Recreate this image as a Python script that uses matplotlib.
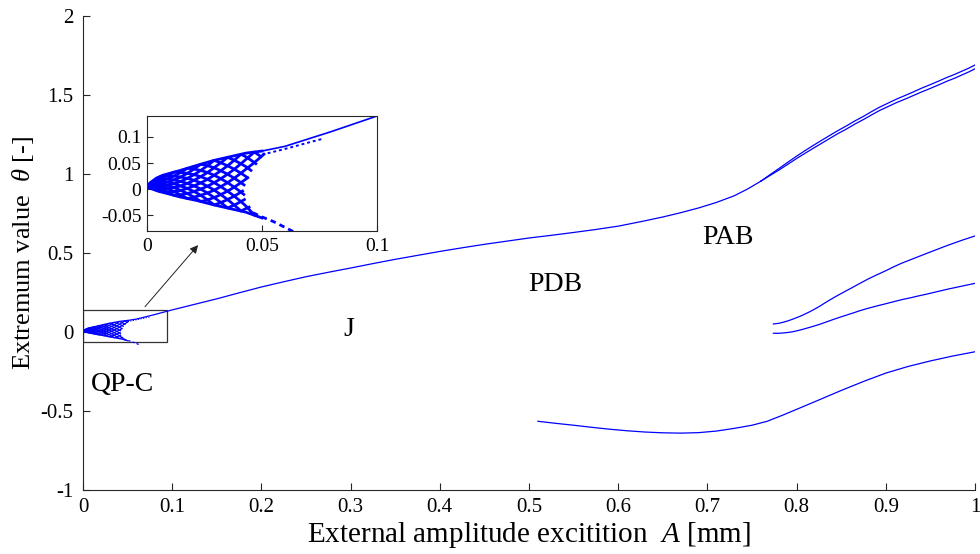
import numpy as np
import matplotlib
matplotlib.use("Agg")
import matplotlib.pyplot as plt
from matplotlib.patches import Rectangle

plt.rcParams['font.family'] = ['Liberation Serif', 'DejaVu Serif']
plt.rcParams['mathtext.fontset'] = 'custom'
plt.rcParams['mathtext.rm'] = 'Liberation Serif'
plt.rcParams['mathtext.it'] = 'Liberation Serif:italic'
plt.rcParams['axes.unicode_minus'] = False

# ---- period-1 branch (single curve, then splits into two near A = 0.76)
main_A = [0.05, 0.06, 0.08, 0.10, 0.125, 0.15, 0.175, 0.2, 0.225, 0.25, 0.275, 0.3, 0.325,
          0.35, 0.375, 0.4, 0.425, 0.45, 0.475, 0.5, 0.525, 0.55, 0.575, 0.6, 0.625, 0.65,
          0.67, 0.69, 0.71, 0.73, 0.745, 0.76]
main_th = [0.073, 0.082, 0.11, 0.14, 0.175, 0.21, 0.248, 0.285, 0.318, 0.35, 0.378, 0.405, 0.433,
           0.46, 0.485, 0.51, 0.533, 0.555, 0.575, 0.595, 0.612, 0.63, 0.649, 0.67, 0.698, 0.728,
           0.755, 0.785, 0.82, 0.862, 0.905, 0.955]

split_A = [0.76, 0.77, 0.781, 0.79, 0.80, 0.81, 0.819, 0.83, 0.838, 0.847, 0.856, 0.865, 0.875,
           0.884, 0.893, 0.903, 0.912, 0.922, 0.931, 0.94, 0.95, 0.96, 0.968, 0.977, 0.985,
           0.993, 1.0]
split_up = [0.955, 0.995, 1.038, 1.074, 1.113, 1.15, 1.182, 1.22, 1.247, 1.277, 1.305, 1.335, 1.365,
            1.395, 1.423, 1.45, 1.474, 1.498, 1.52, 1.543, 1.566, 1.59, 1.61, 1.63, 1.65,
            1.67, 1.69]
split_lo = [0.955, 0.99, 1.028, 1.061, 1.098, 1.133, 1.164, 1.201, 1.228, 1.258, 1.285, 1.315, 1.345,
            1.374, 1.402, 1.428, 1.452, 1.475, 1.497, 1.519, 1.542, 1.566, 1.586, 1.606, 1.626,
            1.646, 1.666]

# ---- PAB branches
pab_A = [0.774, 0.78, 0.785, 0.79, 0.796, 0.805, 0.815, 0.825, 0.834, 0.843, 0.852, 0.862, 0.871,
         0.88, 0.89, 0.9, 0.909, 0.918, 0.928, 0.937, 0.946, 0.958, 0.97, 0.985, 1.0]
pab_up = [0.051, 0.055, 0.062, 0.07, 0.082, 0.102, 0.129, 0.16, 0.192, 0.222, 0.25, 0.28, 0.308,
          0.335, 0.362, 0.388, 0.413, 0.436, 0.458, 0.478, 0.498, 0.524, 0.55, 0.58, 0.608]
pab_lo = [-0.008, -0.008, -0.006, -0.003, 0.002, 0.014, 0.03, 0.047, 0.065, 0.083, 0.10, 0.118, 0.135,
          0.15, 0.165, 0.179, 0.192, 0.205, 0.217, 0.229, 0.24, 0.256, 0.272, 0.29, 0.308]

# ---- lower branch
low_A = [0.51, 0.53, 0.55, 0.57, 0.59, 0.61, 0.63, 0.65, 0.67, 0.69, 0.71, 0.73, 0.75, 0.767,
         0.785, 0.804, 0.825, 0.85, 0.875, 0.9, 0.925, 0.95, 0.975, 1.0]
low_th = [-0.565, -0.578, -0.59, -0.603, -0.615, -0.625, -0.633, -0.638, -0.64, -0.637, -0.627,
          -0.61, -0.59, -0.565, -0.525, -0.48, -0.43, -0.37, -0.313, -0.26, -0.218, -0.183,
          -0.152, -0.125]

# ---- quasi-periodic cloud near the origin (envelopes and right edge)
qp_hi_A = [0.0, 0.0013, 0.004, 0.0071, 0.0145, 0.022, 0.029, 0.036, 0.043, 0.05]
qp_hi = [0.004, 0.012, 0.021, 0.027, 0.036, 0.046, 0.055, 0.062, 0.069, 0.073]
qp_lo_A = [0.0, 0.0043, 0.0145, 0.022, 0.029, 0.036, 0.043, 0.05]
qp_lo = [0.004, -0.003, -0.015, -0.022, -0.030, -0.037, -0.044, -0.055]
qp_edge_th = [-0.06, -0.04, -0.02, 0.0, 0.03, 0.06, 0.08]
qp_edge_A = [0.049, 0.046, 0.043, 0.042, 0.045, 0.050, 0.053]
tail_A = [0.046, 0.05, 0.055, 0.06, 0.064]
tail_th = [-0.045, -0.053, -0.062, -0.073, -0.082]
band_A = [0.05, 0.06, 0.07, 0.076]
band_th = [0.066, 0.077, 0.089, 0.096]

xticks = [0, 0.1, 0.2, 0.3, 0.4, 0.5, 0.6, 0.7, 0.8, 0.9, 1.0]
xticklabels = ['0', '0.1', '0.2', '0.3', '0.4', '0.5', '0.6', '0.7', '0.8', '0.9', '1']
yticks = [-1, -0.5, 0, 0.5, 1, 1.5, 2]
yticklabels = ['-1', '-0.5', '0', '0.5', '1', '1.5', '2']
in_xticks = [0, 0.05, 0.1]
in_xticklabels = ['0', '0.05', '0.1']
in_yticks = [-0.05, 0, 0.05, 0.1]
in_yticklabels = ['-0.05', '0', '0.05', '0.1']

region_labels = [('QP-C', 0.044, -0.33), ('J', 0.298, 0.013), ('PDB', 0.529, 0.30), ('PAB', 0.723, 0.60)]

BLUE = '#0000ff'
AXC = '#262626'


def qp_curves(n_curves=12, period=0.07):
    """Crossing extremum traces that fill the quasi-periodic region."""
    a = np.linspace(0, 0.053, 1000)
    hi = np.interp(a, qp_hi_A, qp_hi)
    lo = np.interp(a, qp_lo_A, qp_lo, right=np.nan)
    lo = np.where(np.isnan(lo), qp_lo[-1] + (a - qp_lo_A[-1]) * 1.6, lo)
    curves = []
    for k in range(n_curves):
        u = k / n_curves + a / period
        frac = 1 - np.abs(2 * (u % 1.0) - 1)
        th = lo + (hi - lo) * frac
        edge = np.interp(th, qp_edge_th, qp_edge_A)
        th = np.where(a <= edge, th, np.nan)
        curves.append((a, th))
    return curves


def draw_all(ax, lw, mesh_lw):
    for a, th in qp_curves():
        ax.plot(a, th, color=BLUE, lw=mesh_lw, solid_capstyle='butt')
    ax.plot(qp_hi_A, qp_hi, color=BLUE, lw=mesh_lw)
    ax.plot(qp_lo_A, qp_lo, color=BLUE, lw=mesh_lw)
    ax.plot(tail_A, tail_th, color=BLUE, lw=mesh_lw, ls=(0, (2.0, 1.5)))
    ax.plot(band_A, band_th, color=BLUE, lw=mesh_lw * 0.7, ls=(0, (1.5, 1.5)))
    ax.plot(main_A, main_th, color=BLUE, lw=lw)
    ax.plot(split_A, split_up, color=BLUE, lw=lw)
    ax.plot(split_A, split_lo, color=BLUE, lw=lw)
    ax.plot(pab_A, pab_up, color=BLUE, lw=lw)
    ax.plot(pab_A, pab_lo, color=BLUE, lw=lw)
    ax.plot(low_A, low_th, color=BLUE, lw=lw)


fig = plt.figure(figsize=(9.8, 5.54), dpi=100)
ax = fig.add_axes([0.0847, 0.1155, 0.9102, 0.8556])
draw_all(ax, 0.9, 0.9)
ax.set_xlim(0, 1)
ax.set_ylim(-1, 2)
ax.set_xticks(xticks)
ax.set_xticklabels(xticklabels)
ax.set_yticks(yticks)
ax.set_yticklabels(yticklabels)
for s in ['top', 'right']:
    ax.spines[s].set_visible(False)
for s in ['left', 'bottom']:
    ax.spines[s].set_color(AXC)
    ax.spines[s].set_linewidth(0.8)
ax.tick_params(direction='in', length=5, width=0.8, color=AXC, labelsize=15)
ax.tick_params(axis='y', pad=7)
ax.tick_params(axis='x', pad=6)
ax.set_xlabel('External amplitude excitition  $A$ [mm]', fontsize=21, labelpad=2)
ax.set_ylabel(r'Extremum value  $\theta$ [-]', fontsize=19, labelpad=3)

for txt, xa, ya in region_labels:
    ax.text(xa, ya, txt, fontsize=20, ha='center', va='center')

ax.add_patch(Rectangle((0, -0.063), 0.094, 0.205, fill=False, edgecolor='#333333', lw=0.9, zorder=1))
ax.annotate('', xy=(0.129, 0.55), xytext=(0.0695, 0.16),
            arrowprops=dict(arrowstyle='-|>', color='#222222', lw=0.7, mutation_scale=12,
                            shrinkA=0, shrinkB=0))

ins = fig.add_axes([0.15, 0.583, 0.2347, 0.2076])
draw_all(ins, 1.2, 2.0)
ins.set_xlim(0, 0.1)
ins.set_ylim(-0.08, 0.14)
ins.set_xticks(in_xticks)
ins.set_xticklabels(in_xticklabels)
ins.set_yticks(in_yticks)
ins.set_yticklabels(in_yticklabels)
for s in ins.spines.values():
    s.set_color(AXC)
    s.set_linewidth(0.8)
ins.tick_params(direction='in', length=4, width=0.8, color=AXC, labelsize=14, top=False, right=False)
ins.tick_params(axis='y', pad=4)
ins.tick_params(axis='x', pad=5)

fig.savefig('out.png', dpi=100)
